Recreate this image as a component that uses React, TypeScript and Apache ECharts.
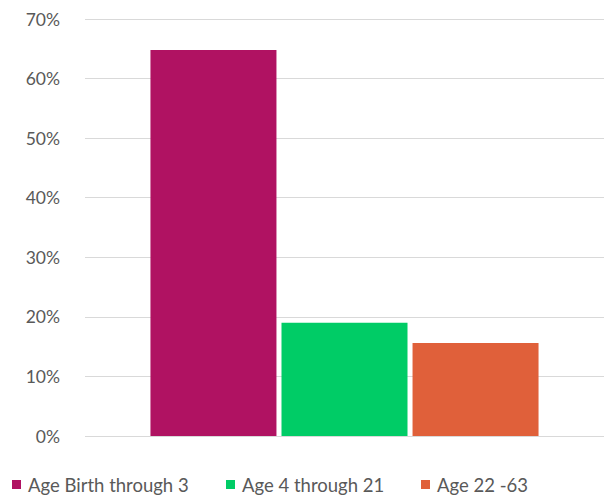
import React, { useEffect, useRef } from "react";
import * as echarts from "echarts";

const categories = [""];
const seriesNames = ["Age Birth through 3", "Age 4 through 21", "Age 22 -63"];
const seriesValues = [64.8, 19.0, 15.6];
const seriesColors = ["#B01262", "#00CC66", "#E0603A"];
const yTicks = [0, 10, 20, 30, 40, 50, 60, 70];
const legendLefts = [8, 222, 417];

export default function App() {
  const ref = useRef<HTMLDivElement>(null);
  useEffect(() => {
    if (!ref.current) return;
    const chart = echarts.init(ref.current, null, { renderer: "svg" });
    chart.setOption({
      animation: false,
      grid: { left: 85, right: 7, top: 19, bottom: 63, containLabel: false },
      xAxis: {
        type: "category",
        data: categories,
        axisLine: { show: false },
        axisTick: { show: false },
        axisLabel: { show: false },
      },
      yAxis: {
        type: "value",
        min: yTicks[0],
        max: yTicks[yTicks.length - 1],
        interval: 10,
        axisLine: { show: false },
        axisTick: { show: false },
        axisLabel: {
          formatter: "{value}%",
          color: "#595959",
          fontFamily: "Lato",
          fontSize: 17.5,
          margin: 25,
        },
        splitLine: { lineStyle: { color: "#D9D9D9", width: 1 } },
      },
      legend: seriesNames.map((n, i) => ({
        data: [n],
        left: legendLefts[i],
        top: 471,
        padding: 4,
        itemWidth: 9,
        itemHeight: 9,
        icon: "rect",
        textStyle: { color: "#595959", fontFamily: "Lato", fontSize: 18.5, padding: [0, 0, 0, 2] },
      })),
      series: seriesNames.map((n, i) => ({
        name: n,
        type: "bar",
        data: [seriesValues[i]],
        barWidth: 126,
        barGap: "4%",
        itemStyle: { color: seriesColors[i] },
      })),
    });
    return () => chart.dispose();
  }, []);
  return (
    <div
      ref={ref}
      style={{ position: "fixed", left: 0, top: 0, width: 611, height: 499, background: "#fff" }}
    />
  );
}
